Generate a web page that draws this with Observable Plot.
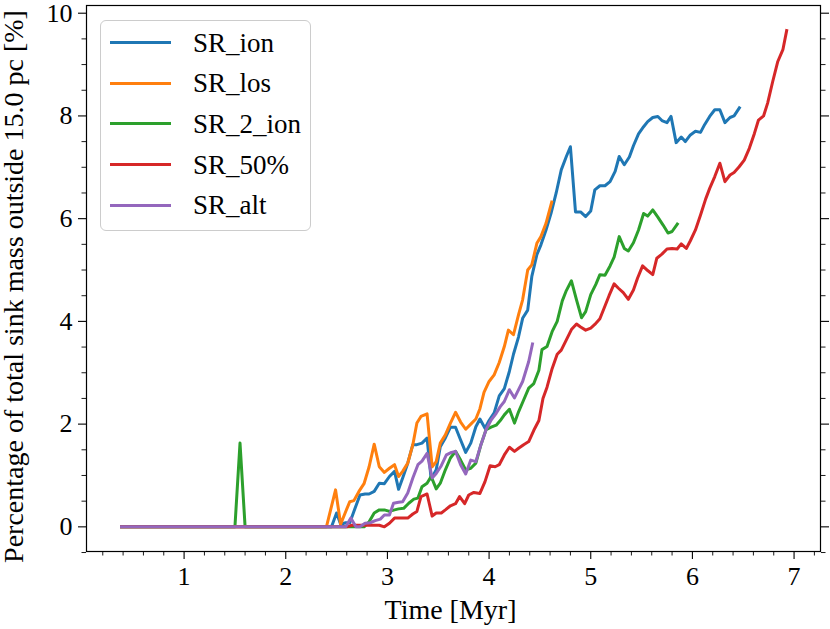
<!DOCTYPE html>
<html>
<head>
<meta charset="utf-8">
<script src="https://cdn.jsdelivr.net/npm/d3@7"></script>
<script src="https://cdn.jsdelivr.net/npm/@observablehq/plot@0.6"></script>
<style>
  html, body { margin: 0; padding: 0; background: #fff; }
  #wrap { position: relative; width: 830px; height: 629px; font-family: "Liberation Serif", "DejaVu Serif", serif; }
  #legend { position: absolute; left: 100px; top: 20px; width: 211px; height: 211px; border: 1px solid #cccccc; border-radius: 6px; background: rgba(255,255,255,0.8); box-sizing: border-box; }
  .item { position: absolute; left: 9px; height: 30px; display: flex; align-items: center; }
  .swatch { width: 61px; height: 0; border-top: 3px solid; }
  .lab { margin-left: 22px; font-size: 27px; color: #000; line-height: 30px; }
</style>
</head>
<body>
<div id="wrap"><div id="legend"></div></div>
<script>
const seriesNames = ["SR_ion", "SR_los", "SR_2_ion", "SR_50%", "SR_alt"];
const seriesColors = ["#1f77b4", "#ff7f0e", "#2ca02c", "#d62728", "#9467bd"];

const ionT = [0.37,2.45,2.50,2.54,2.59,2.63,2.67,2.73,2.78,2.82,2.87,2.92,2.97,3.02,3.07,3.11,3.15,3.20,3.25,3.29,3.34,3.39,3.43,3.48,3.52,3.57,3.62,3.67,3.72,3.77,3.82,3.87,3.91,3.96,4.00,4.05,4.10,4.15,4.20,4.24,4.29,4.33,4.38,4.42,4.47,4.51,4.56,4.61,4.66,4.71,4.76,4.80,4.85,4.90,4.95,5.00,5.04,5.09,5.14,5.19,5.24,5.28,5.33,5.38,5.42,5.47,5.52,5.56,5.61,5.66,5.70,5.75,5.79,5.84,5.89,5.93,5.98,6.03,6.08,6.12,6.17,6.22,6.27,6.32,6.37,6.41,6.47];
const ionV = [0,0,0.27,0.05,0.08,0.08,0.30,0.62,0.64,0.64,0.69,0.85,0.84,0.98,1.08,0.73,0.95,1.24,1.60,1.60,1.63,1.73,0.93,1.11,1.56,1.73,1.94,1.94,1.69,1.45,1.63,1.95,2.10,1.92,2.07,2.22,2.55,2.69,3.03,3.36,3.70,4.06,4.22,4.87,5.30,5.49,5.78,6.11,6.50,6.95,7.21,7.40,6.13,6.13,6.04,6.15,6.56,6.64,6.64,6.72,6.92,7.21,7.05,7.20,7.42,7.65,7.79,7.89,7.97,7.99,7.91,7.87,7.99,7.48,7.59,7.50,7.63,7.70,7.68,7.83,7.99,8.12,8.12,7.87,7.97,8.00,8.18];

const losT = [0.37,2.40,2.49,2.54,2.59,2.63,2.67,2.72,2.77,2.82,2.87,2.92,2.97,3.02,3.07,3.11,3.15,3.20,3.25,3.29,3.33,3.39,3.44,3.48,3.52,3.57,3.62,3.67,3.72,3.77,3.82,3.87,3.91,3.95,4.00,4.05,4.10,4.15,4.19,4.24,4.29,4.33,4.38,4.42,4.47,4.51,4.56,4.62];
const losV = [0,0,0.72,0.05,0.30,0.49,0.51,0.69,0.84,1.17,1.61,1.17,1.06,1.14,1.21,0.98,1.08,1.24,1.60,2.02,2.15,2.20,1.17,1.27,1.63,1.79,2.02,2.23,2.04,1.90,2.00,2.10,2.30,2.62,2.83,2.96,3.20,3.51,3.83,3.74,4.13,4.42,5.00,5.10,5.52,5.65,5.91,6.35];

const ion2T = [0.37,1.50,1.55,1.60,2.77,2.82,2.87,2.92,2.97,3.02,3.07,3.11,3.16,3.21,3.26,3.30,3.34,3.39,3.43,3.48,3.52,3.57,3.62,3.67,3.72,3.77,3.82,3.87,3.92,3.97,4.02,4.07,4.11,4.15,4.20,4.25,4.29,4.34,4.39,4.44,4.49,4.52,4.57,4.62,4.67,4.72,4.76,4.81,4.86,4.91,4.95,5.00,5.05,5.09,5.14,5.19,5.23,5.28,5.33,5.37,5.42,5.47,5.52,5.56,5.61,5.66,5.71,5.76,5.80,5.86];
const ion2V = [0,0,1.63,0,0,0.10,0.27,0.33,0.33,0.30,0.33,0.35,0.36,0.46,0.54,0.56,0.78,0.85,0.98,0.74,0.85,1.11,1.34,1.47,1.30,1.11,1.14,1.24,1.60,1.89,1.94,1.98,2.07,2.18,2.29,2.02,2.24,2.47,2.70,2.79,3.05,3.45,3.51,3.80,4.00,4.40,4.60,4.79,4.42,4.07,4.19,4.52,4.72,4.91,4.90,5.08,5.25,5.65,5.42,5.37,5.53,5.78,6.10,6.05,6.17,6.03,5.88,5.72,5.75,5.92];

const r50T = [0.37,2.60,2.65,2.92,2.97,3.02,3.07,3.13,3.20,3.25,3.29,3.33,3.39,3.44,3.48,3.53,3.57,3.62,3.67,3.71,3.76,3.80,3.85,3.91,3.96,4.01,4.06,4.10,4.15,4.20,4.25,4.29,4.34,4.39,4.44,4.49,4.53,4.57,4.62,4.67,4.71,4.76,4.81,4.86,4.90,4.95,5.00,5.04,5.09,5.14,5.18,5.23,5.27,5.32,5.37,5.42,5.46,5.51,5.56,5.61,5.65,5.70,5.75,5.80,5.85,5.89,5.94,5.98,6.03,6.08,6.13,6.17,6.22,6.27,6.32,6.37,6.41,6.46,6.51,6.56,6.61,6.65,6.70,6.74,6.79,6.84,6.89,6.93];
const r50V = [0,0,0.03,0.03,0,0.07,0.17,0.17,0.17,0.25,0.30,0.59,0.64,0.21,0.27,0.27,0.33,0.41,0.45,0.59,0.45,0.62,0.67,0.65,0.88,1.19,1.17,1.21,1.40,1.55,1.47,1.53,1.60,1.66,1.88,2.07,2.50,2.72,3.08,3.36,3.44,3.64,3.84,3.95,3.89,3.83,3.87,3.94,4.05,4.30,4.50,4.73,4.65,4.56,4.43,4.61,4.84,5.08,4.99,4.91,5.23,5.31,5.41,5.42,5.41,5.51,5.42,5.57,5.78,6.07,6.38,6.59,6.82,7.08,6.72,6.85,6.90,7.01,7.14,7.37,7.66,7.92,8.00,8.25,8.67,9.06,9.29,9.69];

const altT = [0.37,2.59,2.64,2.69,2.73,2.78,2.83,2.88,2.93,2.97,3.02,3.06,3.11,3.15,3.20,3.25,3.30,3.34,3.39,3.44,3.48,3.53,3.58,3.63,3.67,3.72,3.77,3.82,3.87,3.92,3.97,4.02,4.07,4.11,4.15,4.20,4.25,4.29,4.33,4.39,4.43];
const altV = [0,0,0.17,0,0,0.07,0.08,0.12,0.15,0.23,0.23,0.46,0.48,0.49,0.66,0.95,1.21,1.28,1.43,0.95,1.04,1.19,1.40,1.45,1.47,1.21,1.03,1.30,1.27,1.60,1.89,2.08,2.21,2.34,2.44,2.67,2.51,2.67,2.83,3.22,3.59];

const xTicks = [1,2,3,4,5,6,7];
const xMinor = [0.2,0.4,0.6,0.8,1.2,1.4,1.6,1.8,2.2,2.4,2.6,2.8,3.2,3.4,3.6,3.8,4.2,4.4,4.6,4.8,5.2,5.4,5.6,5.8,6.2,6.4,6.6,6.8,7.2];
const yTicks = [0,2,4,6,8,10];
const yMinor = [-0.5,0.5,1,1.5,2.5,3,3.5,4.5,5,5.5,6.5,7,7.5,8.5,9,9.5];

const xLabel = "Time [Myr]";
const yLabel = "Percentage of total sink mass outside 15.0 pc [%]";

const allT = [ionT, losT, ion2T, r50T, altT];
const allV = [ionV, losV, ion2V, r50V, altV];
const rows = [];
allT.forEach((ts, k) => ts.forEach((t, i) => rows.push({series: seriesNames[k], t, v: allV[k][i]})));

const blank = () => "";
const chart = Plot.plot({
  width: 830,
  height: 629,
  marginLeft: 86,
  marginRight: 10,
  marginTop: 5,
  marginBottom: 78,
  style: {fontFamily: "'Liberation Serif', 'DejaVu Serif', serif", fontSize: "26px", color: "#000", background: "#fff", overflow: "visible"},
  x: {domain: [0.04, 7.26]},
  y: {domain: [-0.48, 10.15]},
  color: {domain: seriesNames, range: seriesColors},
  marks: [
    Plot.axisX({ticks: xTicks, tickSize: 8, tickPadding: 7, label: null, strokeWidth: 1.1, fontSize: 26}),
    Plot.axisX({ticks: xMinor, tickSize: 4.5, tickFormat: blank, label: null, strokeWidth: 0.9}),
    Plot.axisY({ticks: yTicks, tickSize: 8, tickPadding: 6, label: null, strokeWidth: 1.1, fontSize: 26}),
    Plot.axisY({ticks: yMinor, tickSize: 4.5, tickFormat: blank, label: null, strokeWidth: 0.9}),
    Plot.axisY({anchor: "right", ticks: yTicks, tickSize: 8, tickFormat: blank, label: null, strokeWidth: 1.1}),
    Plot.axisY({anchor: "right", ticks: yMinor, tickSize: 4.5, tickFormat: blank, label: null, strokeWidth: 0.9}),
    Plot.line(rows, {x: "t", y: "v", z: "series", stroke: "series", strokeWidth: 3, strokeLinejoin: "round", strokeLinecap: "butt"}),
    Plot.frame({stroke: "#000", strokeWidth: 1.2}),
    Plot.text([xLabel], {text: d => d, frameAnchor: "bottom", dx: -3, dy: 59, lineAnchor: "middle", textAnchor: "middle", fontSize: 28, fill: "#000"}),
    Plot.text([yLabel], {text: d => d, frameAnchor: "left", dx: -72, dy: 8, rotate: -90, lineAnchor: "middle", textAnchor: "middle", fontSize: 28, fill: "#000"})
  ]
});
document.getElementById("wrap").prepend(chart);

const legend = document.getElementById("legend");
seriesNames.forEach((name, i) => {
  const it = document.createElement("div");
  it.className = "item";
  it.style.top = (6.7 + i * 40.6) + "px";
  const sw = document.createElement("div");
  sw.className = "swatch";
  sw.style.borderTopColor = seriesColors[i];
  const lb = document.createElement("span");
  lb.className = "lab";
  lb.textContent = name;
  it.appendChild(sw); it.appendChild(lb);
  legend.appendChild(it);
});
</script>
</body>
</html>
